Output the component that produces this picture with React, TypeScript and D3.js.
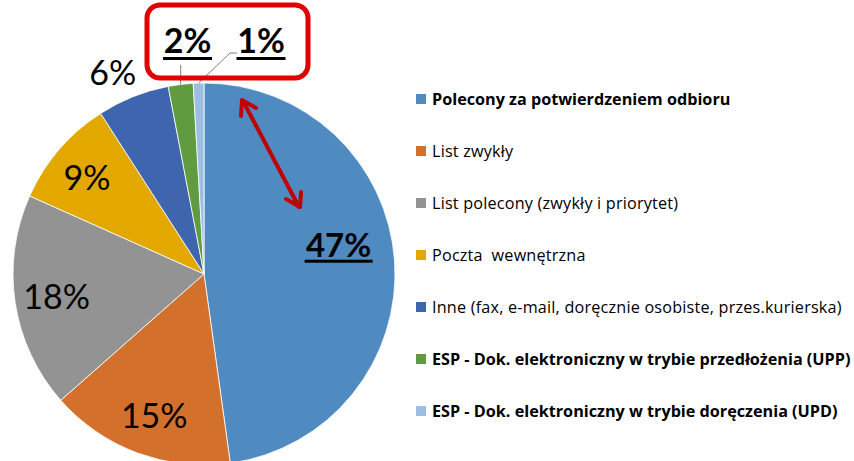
import * as d3 from 'd3';

// udział w kątach wycinków (odczyt z rysunku) i etykiety pokazane na wykresie
const categories = [
  'Polecony za potwierdzeniem odbioru',
  'List zwykły',
  'List polecony (zwykły i priorytet)',
  'Poczta  wewnętrzna',
  'Inne (fax, e-mail, doręcznie osobiste, przes.kurierska)',
  'ESP - Dok. elektroniczny w trybie przedłożenia (UPP)',
  'ESP - Dok. elektroniczny w trybie doręczenia (UPD)',
];
const shares = [47.8, 15.7, 18.2, 9.2, 6.1, 2.1, 0.9];
const labels = ['47%', '15%', '18%', '9%', '6%', '2%', '1%'];
const colors = ['#4F8BC0', '#D3702B', '#939393', '#E2A800', '#3F65AE', '#619B40', '#9DBDE3'];
const boldLegend = [true, false, false, false, false, true, true];

const W = 854;
const H = 461;
const cx = 204;
const cy = 274;
const R = 191;
const FONT = 'Lato, "Liberation Sans", sans-serif';
const LEGEND_FONT = '"Open Sans", Lato, sans-serif';

// przesunięcia etykiet względem centroidu (jak w oryginale)
const labelNudge: [number, number][] = [[-14, -19], [2, 2], [0, 0], [-4, 1], [-9, 4]];

export default function App() {
  const pie = d3.pie<number>().sort(null).value(d => d)(shares);
  const arc = d3.arc<d3.PieArcDatum<number>>().innerRadius(0).outerRadius(R);
  const inner = d3.arc<d3.PieArcDatum<number>>().innerRadius(R * 0.78).outerRadius(R * 0.78);
  const outer = d3.arc<d3.PieArcDatum<number>>().innerRadius(R * 1.16).outerRadius(R * 1.16);
  const edge = d3.arc<d3.PieArcDatum<number>>().innerRadius(R).outerRadius(R);

  const rowY = d3.scalePoint<string>().domain(categories).range([99, 411]);

  const greenEdge = edge.centroid(pie[5]);
  const blueEdge = edge.centroid(pie[6]);
  const [mx, my] = inner.centroid(pie[0]);

  return (
    <svg width={W} height={H} style={{position: 'absolute', left: 0, top: 0, background: '#fff'}}
         fontFamily={FONT}>
      <g transform={`translate(${cx},${cy})`}>
        {pie.map((d, i) => (
          <path key={i} d={arc(d) ?? ''} fill={colors[i]} stroke="#fff" strokeWidth={0.8} />
        ))}
        {pie.slice(0, 5).map((d, i) => {
          const [x, y] = (i === 4 ? outer : inner).centroid(d);
          const main = i === 0;
          return (
            <text key={i} x={x + labelNudge[i][0]} y={y + labelNudge[i][1]} dy="0.36em"
                  textAnchor="middle" fontSize={main ? 33 : 34} fontWeight={main ? 700 : 400}
                  fill="#000">
              {labels[i]}
            </text>
          );
        })}
        {/* podkreślenie 47% */}
        <rect x={mx + labelNudge[0][0] - 34} y={my + labelNudge[0][1] + 15} width={68} height={3} fill="#000" />
        {/* linie odniesienia dla 2% i 1% */}
        <line x1={greenEdge[0]} y1={greenEdge[1]} x2={greenEdge[0]} y2={65 - cy} stroke="#7f7f7f" strokeWidth={1} />
        <polyline points={`${blueEdge[0]},${blueEdge[1]} ${230 - cx},${53 - cy} ${237 - cx},${53 - cy}`}
                  fill="none" stroke="#7f7f7f" strokeWidth={1} />
      </g>

      {/* ramka wyróżnienia */}
      <rect x={147} y={5} width={161} height={73} rx={13} fill="none" stroke="#E30000" strokeWidth={5} />
      {[{t: labels[5], x: 187.5}, {t: labels[6], x: 261}].map(o => (
        <g key={o.t}>
          <text x={o.x} y={53} textAnchor="middle" fontSize={34} fontWeight={700} fill="#000">{o.t}</text>
          <rect x={o.x - 24.5} y={57} width={49} height={3} fill="#000" />
        </g>
      ))}

      {/* strzałka */}
      <g stroke="#C00000" strokeWidth={4} fill="none" strokeLinecap="round" strokeLinejoin="round">
        <line x1={243} y1={101} x2={299} y2={207} />
        <polyline points="241,116 242,100 256,108" />
        <polyline points="286,199 300,207 301,192" />
      </g>

      {/* legenda */}
      {categories.map((c, i) => {
        const y = rowY(c) ?? 0;
        return (
          <g key={c}>
            <rect x={416} y={y - 5} width={10} height={10} fill={colors[i]} />
            <text x={432} y={y} dy="0.36em" fontSize={16.2} fontFamily={LEGEND_FONT}
                  fontWeight={boldLegend[i] ? 700 : 400} letterSpacing={boldLegend[i] ? 0 : 0.2}
                  fill="#000" style={{whiteSpace: 'pre'}}>
              {c}
            </text>
          </g>
        );
      })}
    </svg>
  );
}
